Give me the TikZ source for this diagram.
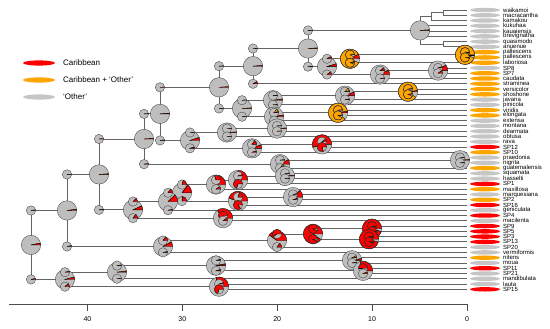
\documentclass[tikz,border=0pt]{standalone}
\usepackage{fontspec}
\setmainfont{Liberation Sans}
\usetikzlibrary{calc}
\definecolor{pgray}{RGB}{190,190,190}
\definecolor{pred}{RGB}{255,0,0}
\definecolor{porange}{RGB}{255,165,0}
\definecolor{brc}{RGB}{100,100,100}
\definecolor{egray}{RGB}{198,198,198}
\newcommand\mk[4]{\path let \p1=($(#3)!.5!(#4)$) in (#2pt,\y1) coordinate (#1);}
\newcommand\pie[4]{%
  \fill[pgray] (#1) circle[radius=#2];
  \filldraw[pred,draw=black,line width=0.35pt] (#1) -- ++(0:#2) arc[start angle=0,end angle={-360*#3},radius=#2] -- cycle;
  \filldraw[porange,draw=black,line width=0.35pt] (#1) -- ++({-360*#3}:#2) arc[start angle={-360*#3},end angle={-360*(#3+#4)},radius=#2] -- cycle;
  \draw[black!75,line width=0.35pt] (#1) circle[radius=#2];}
\newcommand\nd[9]{\pie{#1}{9.7}{#2}{#3}\pie{#1 |- #4}{4.7}{#5}{#6}\pie{#1 |- #7}{4.7}{#8}{#9}}
\newcommand\E[2]{\foreach \c in {#2} {\draw[br] (#1) |- (\c);}}
\begin{document}
\begin{tikzpicture}[x=1pt,y=-1pt,
  br/.style={draw=brc,line width=0.9pt},
  lab/.style={anchor=west,inner sep=0pt,font=\fontsize{6}{6}\selectfont},
  leg/.style={anchor=west,inner sep=0pt,font=\fontsize{8}{8}\selectfont},
  axl/.style={inner sep=0pt,font=\fontsize{7}{7}\selectfont},
  axs/.style={draw=black!70,line width=0.7pt}]
\useasboundingbox (0,0) rectangle (550,329);
\foreach \i in {1,...,54} {\coordinate (t\i) at (467,{10+5.27*(\i-1)});}
\mk{w12}{443}{t1}{t2}
\mk{w123}{431}{w12}{t3}
\mk{w78}{443}{t7}{t8}
\mk{A}{420}{w123}{w78}
\mk{n9t10}{465}{t9}{t10}
\mk{n9t11}{350}{n9t10}{t11}
\mk{n12t13}{438}{t12}{t13}
\mk{n12t14}{380}{n12t13}{t14}
\mk{Q}{327}{n9t11}{n12t14}
\mk{P1}{308}{A}{Q}
\mk{N4}{253}{P1}{t15}
\mk{n16t17}{408}{t16}{t17}
\mk{S1}{345}{n16t17}{t18}
\mk{T1}{273}{S1}{t19}
\mk{n20t21}{338}{t20}{t21}
\mk{T2}{274}{n20t21}{t22}
\mk{T12}{242}{T1}{T2}
\mk{N3}{219}{N4}{T12}
\mk{T3}{277}{t23}{t24}
\mk{V1}{227}{T3}{t25}
\mk{n26t27}{322}{t26}{t27}
\mk{V2}{252}{n26t27}{t28}
\mk{U}{190}{V1}{V2}
\mk{N2}{160}{N3}{U}
\mk{n29t30}{460}{t29}{t30}
\mk{X1}{280}{n29t30}{t31}
\mk{N1}{144}{N2}{X1}
\mk{n32t33}{285}{t32}{t33}
\mk{n32t34}{238}{n32t33}{t34}
\mk{n32t35}{216}{n32t34}{t35}
\mk{n36t37}{293}{t36}{t37}
\mk{n36t38}{238}{n36t37}{t38}
\mk{C181}{182}{n32t35}{n36t38}
\mk{C168}{168}{C181}{t39}
\mk{n40t41}{223}{t40}{t41}
\mk{W}{133}{C168}{n40t41}
\mk{N99}{99}{N1}{W}
\mk{n42t43}{372}{t42}{t43}
\mk{n44t45}{369}{t44}{t45}
\mk{n42t45}{313}{n42t43}{n44t45}
\mk{C277}{277}{n42t45}{t46}
\mk{C163}{163}{C277}{t47}
\mk{N67}{67}{N99}{C163}
\mk{n48t49}{352}{t48}{t49}
\mk{n50t51}{363}{t50}{t51}
\mk{n48t51}{216}{n48t49}{n50t51}
\mk{C117}{117}{n48t51}{t52}
\mk{n53t54}{219}{t53}{t54}
\mk{C65}{65}{C117}{n53t54}
\mk{root}{31}{N67}{C65}
% branches
\E{w12}{t1,t2}\E{w123}{w12,t3}\E{w78}{t7,t8}\E{A}{w123,t4,t5,t6,w78}
\E{n9t10}{t9,t10}\E{n9t11}{n9t10,t11}\E{n12t13}{t12,t13}\E{n12t14}{n12t13,t14}
\E{Q}{n9t11,n12t14}\E{P1}{A,Q}\E{N4}{P1,t15}\E{n16t17}{t16,t17}\E{S1}{n16t17,t18}
\E{T1}{S1,t19}\E{n20t21}{t20,t21}\E{T2}{n20t21,t22}\E{T12}{T1,T2}\E{N3}{N4,T12}
\E{T3}{t23,t24}\E{V1}{T3,t25}\E{n26t27}{t26,t27}\E{V2}{n26t27,t28}\E{U}{V1,V2}
\E{N2}{N3,U}\E{n29t30}{t29,t30}\E{X1}{n29t30,t31}\E{N1}{N2,X1}
\E{n32t33}{t32,t33}\E{n32t34}{n32t33,t34}\E{n32t35}{n32t34,t35}\E{n36t37}{t36,t37}
\E{n36t38}{n36t37,t38}\E{C181}{n32t35,n36t38}\E{C168}{C181,t39}\E{n40t41}{t40,t41}
\E{W}{C168,n40t41}\E{N99}{N1,W}\E{n42t43}{t42,t43}\E{n44t45}{t44,t45}
\E{n42t45}{n42t43,n44t45}\E{C277}{n42t45,t46}\E{C163}{C277,t47}\E{N67}{N99,C163}
\E{n48t49}{t48,t49}\E{n50t51}{t50,t51}\E{n48t51}{n48t49,n50t51}\E{C117}{n48t51,t52}
\E{n53t54}{t53,t54}\E{C65}{C117,n53t54}\E{root}{N67,C65}
% tip states and labels
\foreach \i/\n/\c in {1/waikamoi/egray,2/macracantha/egray,3/kamakou/egray,4/kukuhaa/egray,
 5/kauaiensis/egray,6/brevignatha/egray,7/quasimodo/egray,8/anuenue/egray,9/pallescens/porange,
 10/pallescens/porange,11/laboriosa/porange,12/SP8/egray,13/SP7/porange,14/caudata/porange,
 15/straminea/porange,16/versicolor/porange,17/shoshone/porange,18/javana/egray,19/pinicola/egray,
 20/viridis/porange,21/elongata/porange,22/extensa/egray,23/montana/egray,24/dearmata/egray,
 25/obtusa/egray,26/rava/egray,27/SP12/pred,28/SP10/porange,29/praedonia/egray,30/nigrita/egray,
 31/guatemalensis/porange,32/squamata/egray,33/hasselti/egray,34/SP1/pred,35/maxillosa/porange,
 36/marquesiana/egray,37/SP2/porange,38/SP16/pred,39/geniculata/egray,40/SP4/pred,
 41/macilenta/egray,42/SP9/pred,43/SP5/pred,44/SP3/pred,45/SP13/pred,46/SP20/egray,
 47/vermiformis/egray,48/nitens/porange,49/moua/egray,50/SP11/pred,51/SP21/egray,
 52/mandibulata/egray,53/lauta/egray,54/SP15/pred}
 {\fill[\c] (485,{10+5.27*(\i-1)}) ellipse[x radius=15,y radius=2.2];
  \node[lab] (l\i) at (503,{10+5.27*(\i-1)}) {\n};}
% pies
\nd{root}{0.03}{0}{N67}{0.02}{0}{C65}{0.03}{0}
\nd{N67}{0.02}{0}{N99}{0.01}{0}{C163}{0.03}{0}
\nd{N99}{0.01}{0}{N1}{0.01}{0}{W}{0.02}{0}
\nd{N1}{0.01}{0}{N2}{0.01}{0}{X1}{0.02}{0}
\nd{N2}{0.01}{0}{N3}{0.01}{0}{U}{0.02}{0}
\nd{N3}{0.01}{0}{N4}{0.01}{0}{T12}{0.01}{0}
\nd{N4}{0.01}{0}{P1}{0.01}{0}{t15}{0.08}{0}
\nd{P1}{0.01}{0}{A}{0.01}{0}{Q}{0.02}{0}
\pie{A}{9.7}{0.01}{0}
\nd{Q}{0.05}{0}{n9t11}{0.08}{0}{n12t14}{0.1}{0}
\nd{n9t11}{0.08}{0.85}{n9t10}{0.02}{0.9}{t11}{0.05}{0.9}
\nd{n9t10}{0}{0.95}{t9}{0}{0.97}{t10}{0}{0.97}
\nd{n12t14}{0.08}{0}{n12t13}{0.1}{0}{t14}{0.02}{0}
\nd{n12t13}{0.1}{0}{t12}{0.05}{0}{t13}{0.1}{0}
\nd{n16t17}{0.02}{0.88}{t16}{0.03}{0.9}{t17}{0.03}{0.9}
\nd{S1}{0.06}{0}{n16t17}{0.04}{0.1}{t18}{0.02}{0}
\nd{T1}{0.02}{0}{S1}{0.02}{0}{t19}{0.01}{0}
\nd{n20t21}{0.03}{0.85}{t20}{0.02}{0.9}{t21}{0.02}{0.9}
\nd{T2}{0.03}{0}{n20t21}{0.05}{0.1}{t22}{0.01}{0}
\nd{T12}{0.01}{0}{T1}{0.01}{0}{T2}{0.01}{0}
\nd{T3}{0.01}{0}{t23}{0.01}{0}{t24}{0.01}{0}
\nd{V1}{0.01}{0}{T3}{0.01}{0}{t25}{0.01}{0}
\nd{n26t27}{0.55}{0}{t26}{0.1}{0}{t27}{0.8}{0}
\nd{V2}{0.06}{0}{n26t27}{0.15}{0}{t28}{0.05}{0}
\nd{U}{0.05}{0}{V1}{0.01}{0}{V2}{0.05}{0}
\nd{n29t30}{0.01}{0}{t29}{0.01}{0}{t30}{0.01}{0}
\nd{X1}{0.08}{0}{n29t30}{0.02}{0}{t31}{0.1}{0.05}
\nd{n32t33}{0.01}{0}{t32}{0.01}{0}{t33}{0.01}{0}
\nd{n32t34}{0.25}{0}{n32t33}{0.05}{0}{t34}{0.7}{0}
\nd{n32t35}{0.2}{0}{n32t34}{0.3}{0}{t35}{0.1}{0}
\nd{n36t37}{0.12}{0}{t36}{0.03}{0}{t37}{0.05}{0}
\nd{n36t38}{0.45}{0}{n36t37}{0.2}{0}{t38}{0.85}{0}
\nd{C181}{0.15}{0}{n32t35}{0.2}{0}{n36t38}{0.25}{0}
\nd{C168}{0.12}{0}{C181}{0.15}{0}{t39}{0.03}{0}
\nd{n40t41}{0.35}{0}{t40}{0.75}{0}{t41}{0.1}{0}
\nd{W}{0.07}{0}{C168}{0.12}{0}{n40t41}{0.15}{0}
\nd{n42t43}{0.95}{0}{t42}{0.97}{0}{t43}{0.97}{0}
\nd{n44t45}{0.95}{0}{t44}{0.97}{0}{t45}{0.97}{0}
\nd{n42t45}{0.9}{0}{n42t43}{0.93}{0}{n44t45}{0.93}{0}
\nd{C277}{0.4}{0}{n42t45}{0.6}{0}{t46}{0.15}{0}
\nd{C163}{0.08}{0}{C277}{0.15}{0}{t47}{0.03}{0}
\nd{n48t49}{0.03}{0}{t48}{0.02}{0.05}{t49}{0.02}{0}
\nd{n50t51}{0.3}{0}{t50}{0.5}{0}{t51}{0.05}{0}
\nd{n48t51}{0.03}{0}{n48t49}{0.03}{0}{n50t51}{0.05}{0}
\nd{C117}{0.02}{0}{n48t51}{0.02}{0}{t52}{0.01}{0}
\nd{n53t54}{0.3}{0}{t53}{0.05}{0}{t54}{0.7}{0}
\nd{C65}{0.04}{0}{C117}{0.03}{0}{n53t54}{0.12}{0}
% legend
\fill[pred] (39,63) ellipse[x radius=16,y radius=2.6];
\node[leg] (lg1) at (63,63) {Caribbean};
\fill[porange] (39,80) ellipse[x radius=16,y radius=2.6];
\node[leg] (lg2) at (63,80) {Caribbean + `Other'};
\fill[egray] (39,97) ellipse[x radius=16,y radius=2.6];
\node[leg] (lg3) at (63,97) {`Other'};
% axis
\draw[axs] (9,304) coordinate (ax0) -- (467,304) coordinate (ax1);
\foreach \t in {0,10,20,30,40} {
  \draw[axs] ({467-9.4875*\t},304) coordinate (tk\t) -- ++(0,7);
  \node[axl] (al\t) at ({467-9.4875*\t},319) {\t};}
\end{tikzpicture}
\end{document}
